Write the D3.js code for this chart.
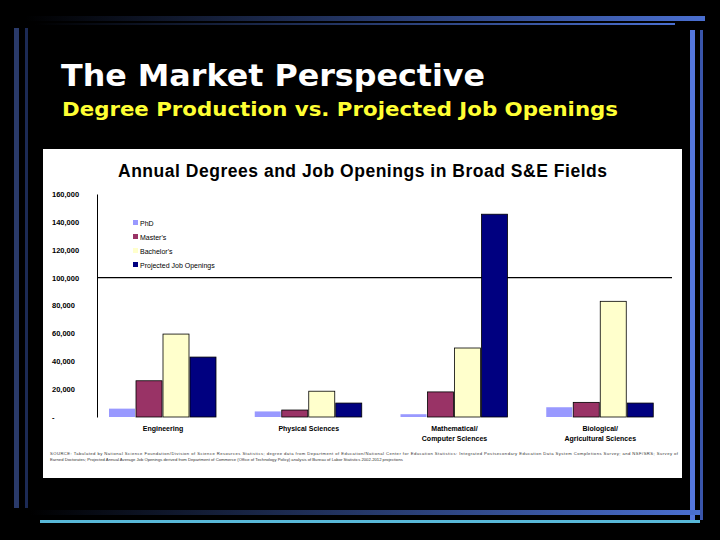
<!DOCTYPE html><html><head><meta charset="utf-8"><script src="https://cdn.jsdelivr.net/npm/d3@7"></script>
<style>body{margin:0;background:#000}</style></head><body><svg id="c" width="720" height="540"></svg>
<script>
const categories=[["Engineering"],["Physical Sciences"],["Mathematical/","Computer Sciences"],["Biological/","Agricultural Sciences"]];
const seriesNames=["PhD","Master's","Bachelor's","Projected Job Openings"];
const phd=[6000,4000,2000,7000];
const masters=[26000,5000,18000,10500];
const bachelors=[59500,18500,49500,83000];
const jobs=[43000,10000,145500,10000];
const yTicks=[0,20000,40000,60000,80000,100000,120000,140000,160000];
const colors=["#9999ff","#993366","#ffffcc","#000080"];
const series=[phd,masters,bachelors,jobs];
const svg=d3.select("#c");
const g1=svg.append("defs").append("linearGradient").attr("id","gb");
g1.append("stop").attr("offset","0").attr("stop-color","#000");
g1.append("stop").attr("offset","1").attr("stop-color","#4a6fd0");
svg.append("rect").attr("x",25).attr("y",16).attr("width",680).attr("height",5).attr("fill","url(#gb)");
svg.append("rect").attr("x",35).attr("y",23).attr("width",640).attr("height",2).attr("fill","url(#gb)");
svg.append("rect").attr("x",14).attr("y",28).attr("width",5).attr("height",480).attr("fill","#2a3a6a");
svg.append("rect").attr("x",25).attr("y",28).attr("width",3).attr("height",480).attr("fill","#1c2a55");
svg.append("rect").attr("x",690).attr("y",30).attr("width",5).attr("height",490).attr("fill","#5577dd");
svg.append("rect").attr("x",700).attr("y",30).attr("width",3).attr("height",490).attr("fill","#3a55aa");
svg.append("rect").attr("x",30).attr("y",510).attr("width",670).attr("height",5).attr("fill","url(#gb)");
svg.append("rect").attr("x",40).attr("y",520).attr("width",660).attr("height",3).attr("fill","#58b8d8");
svg.append("text").attr("x",61).attr("y",86).attr("fill","#fff").attr("font-family","DejaVu Sans").attr("font-weight","bold").attr("font-size",31).attr("textLength",424).attr("lengthAdjust","spacingAndGlyphs").text("The Market Perspective");
svg.append("text").attr("x",62).attr("y",116).attr("fill","#ffff33").attr("font-family","DejaVu Sans").attr("font-weight","bold").attr("font-size",20).attr("textLength",556).attr("lengthAdjust","spacingAndGlyphs").text("Degree Production vs. Projected Job Openings");
svg.append("rect").attr("x",43).attr("y",149).attr("width",639).attr("height",329).attr("fill","#fff");
const F="Arial, Liberation Sans";
svg.append("text").attr("x",118).attr("y",177).attr("font-family",F).attr("font-weight","bold").attr("font-size",17.5).attr("textLength",489).text("Annual Degrees and Job Openings in Broad S&E Fields");
const y=d3.scaleLinear().domain([0,160000]).range([417,194]);
const x=d3.scaleBand().domain(d3.range(4)).range([97,680]);
const ax=svg.append("g").attr("transform","translate(97,0)").call(d3.axisLeft(y).tickValues(yTicks).tickSize(0).tickPadding(14).tickFormat(d=>d===0?"-":d3.format(",")(d)));
ax.select(".domain").attr("stroke","#000");
ax.selectAll("text").attr("font-family",F).attr("font-size",7.5).attr("font-weight","bold").attr("fill","#000").attr("text-anchor","start").attr("x",-45);
svg.append("line").attr("x1",97).attr("x2",672).attr("y1",y(100000)).attr("y2",y(100000)).attr("stroke","#000").attr("stroke-width",1.2);
const bw=26;
series.forEach((s,i)=>{
 svg.append("g").selectAll("rect").data(s).join("rect")
 .attr("x",(d,j)=>x(j)+12+i*(bw+1)).attr("width",bw).attr("y",d=>y(d)).attr("height",d=>417-y(d))
 .attr("fill",colors[i]).attr("stroke",i===0?"none":"#000").attr("stroke-width",0.8);
});
categories.forEach((c,j)=>{c.forEach((l,k)=>svg.append("text").attr("x",x(j)+66).attr("y",431+k*10).attr("text-anchor","middle").attr("font-family",F).attr("font-size",7).attr("font-weight","bold").text(l));});
const lg=svg.append("g");
seriesNames.forEach((n,i)=>{lg.append("rect").attr("x",133).attr("y",220+i*14).attr("width",5).attr("height",5).attr("fill",colors[i]);
lg.append("text").attr("x",140).attr("y",226+i*14).attr("font-family",F).attr("font-size",7).text(n);});
svg.append("text").attr("x",50).attr("y",455).attr("font-family",F).attr("font-size",4.2).attr("fill","#333").attr("textLength",628).text("SOURCE: Tabulated by National Science Foundation/Division of Science Resources Statistics; degree data from Department of Education/National Center for Education Statistics: Integrated Postsecondary Education Data System Completions Survey; and NSF/SRS; Survey of");
svg.append("text").attr("x",50).attr("y",461).attr("font-family",F).attr("font-size",4.2).attr("fill","#333").text("Earned Doctorates; Projected Annual Average Job Openings derived from Department of Commerce (Office of Technology Policy) analysis of Bureau of Labor Statistics 2002-2012 projections");
</script></body></html>
